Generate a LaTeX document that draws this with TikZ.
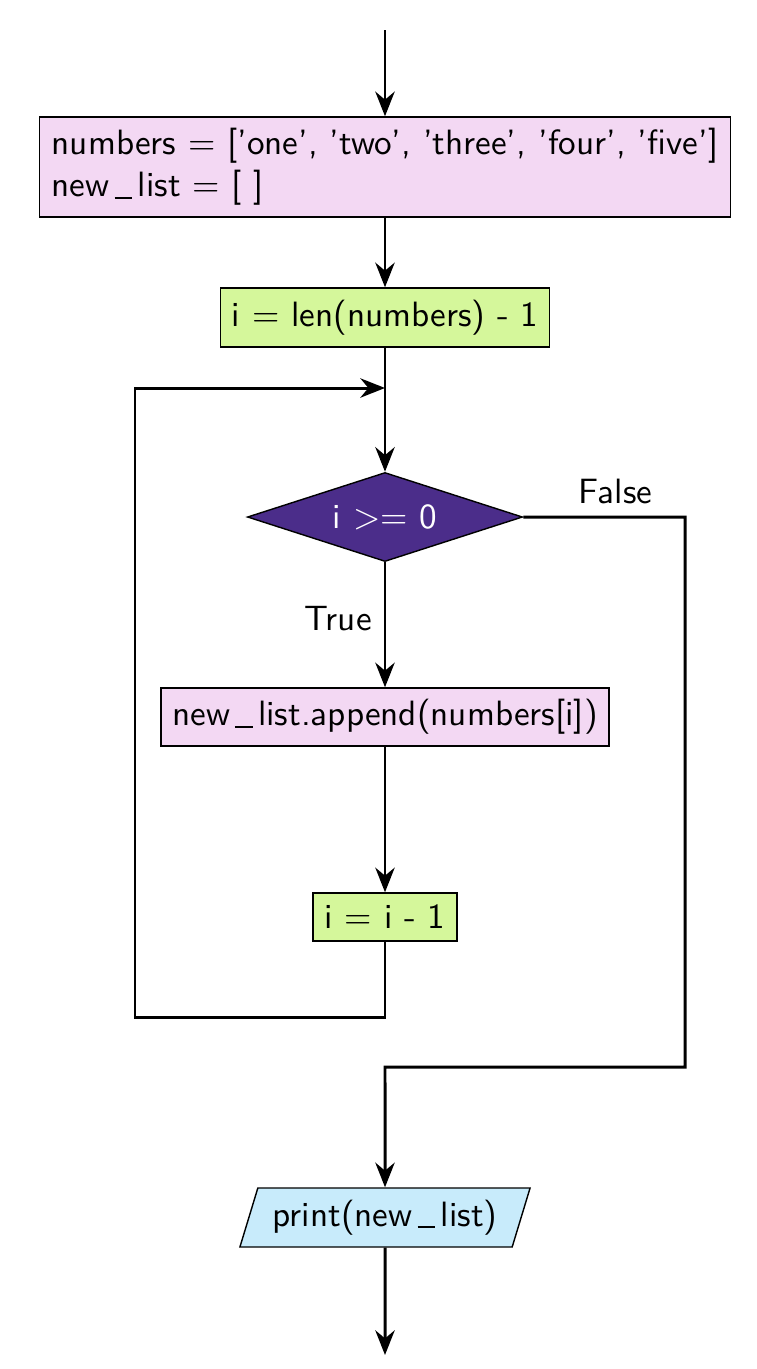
\documentclass[tikz,border=0pt]{standalone}
\usepackage{amsmath}
\usepackage{tikz}
\usetikzlibrary{arrows.meta,shapes.geometric}

\definecolor{procpink}{RGB}{243,216,243}
\definecolor{initgreen}{RGB}{213,247,155}
\definecolor{decpurple}{RGB}{75,45,138}
\definecolor{outblue}{RGB}{200,235,251}
\newcommand{\uscore}{\kern0.14em\rule[-0.5pt]{0.5em}{0.45pt}\kern0.16em}

\begin{document}
\begin{tikzpicture}[x=0.01cm,y=-0.01cm,font=\sffamily,
    box/.style={draw,thin,inner xsep=0.1cm,inner ysep=0pt},
    arr/.style={-{Stealth[length=7pt,width=5.5pt]},line width=0.85pt},
    line/.style={line width=0.85pt}]
    \useasboundingbox (0,0) rectangle (756,1369);

    \coordinate (start) at (385,30);
    \node[box,fill=procpink,align=left,minimum height=1cm,minimum width=6.91cm] (init) at (385,167)
        {numbers = ['one', 'two', 'three', 'four', 'five']\\new\uscore list = [ ]};
    \node[box,fill=initgreen,minimum height=0.59cm,minimum width=3.29cm] (idx) at (385,317.5) {i = len(numbers) - 1};
    \coordinate (join) at (385,388);
    \node[diamond,draw,thin,fill=decpurple,text=white,aspect=3.1,minimum width=2.75cm,minimum height=0.89cm,inner sep=0pt] (cond) at (385,517) {i >= 0};
    \node[box,fill=procpink,minimum height=0.58cm,minimum width=4.48cm] (app) at (385,717) {new\uscore list.append(numbers[i])};
    \node[box,fill=initgreen,minimum height=0.48cm,minimum width=1.44cm] (dec) at (385,917) {i = i - 1};
    \coordinate (back) at (135,1017);
    \coordinate (fright) at (685,517);
    \coordinate (merge) at (385,1067);
    \node[trapezium,draw,thin,fill=outblue,trapezium left angle=63,trapezium right angle=117,trapezium stretches body,minimum width=2.9cm,minimum height=0.59cm,inner ysep=0pt] (out) at (385,1217.5) {print(new\uscore list)};
    \coordinate (end) at (385,1355);

    \draw[arr] (start) -- (init);
    \draw[arr] (init) -- (idx);
    \draw[line] (idx) -- (join);
    \draw[arr] (join) -- (cond);
    \draw[arr] (cond) -- node[left,pos=0.45]{True} (app);
    \draw[arr] (app) -- (dec);
    \draw[arr] (dec) |- (back) |- (join);
    \draw[arr] (cond.east) -- node[above,pos=0.57]{False} (fright) |- (merge) -- (out);
    \draw[arr] (out) -- (end);
\end{tikzpicture}
\end{document}
